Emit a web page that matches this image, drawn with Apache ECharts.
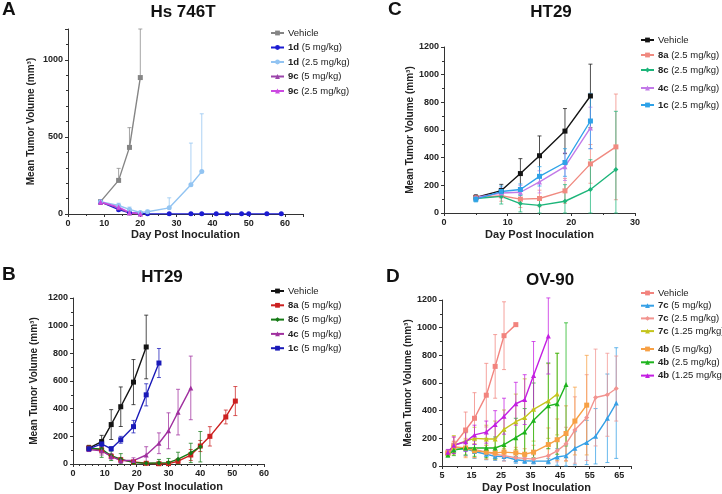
<!DOCTYPE html>
<html>
<head>
<meta charset="utf-8">
<script src="https://cdn.jsdelivr.net/npm/echarts@6/dist/echarts.min.js"></script>
<style>
  html, body { margin: 0; padding: 0; background: #fff; }
  #main { width: 722px; height: 494px; }
</style>
</head>
<body>
<div id="main"></div>
<script>
// 数据 —— A: Hs 746T
var daysA = [9, 14, 17, 20, 22, 28, 34, 37, 41, 44, 48, 50, 55, 59];
var aVehicle = [80, 218, 432, 885];
var aVehicleSd = [0, 78, 128, 315];
var a1d5 = [78, 28, 8, 3, 2, 1, 1, 1, 1, 1, 1, 1, 1, 1];
var a1d5Sd = [0, 0, 0, 0, 0, 0, 0, 0, 0, 0, 0, 0, 0, 0];
var a1d25 = [80, 55, 30, 10, 15, 40, 190, 275];
var a1d25Sd = [0, 15, 15, 5, 10, 65, 270, 375];
var a9c5 = [75, 40, 6, 0];
var a9c5Sd = [0, 0, 0, 0];
var a9c25 = [78, 45, 10, 2];
var a9c25Sd = [0, 0, 0, 0];

// C: HT29 (2.5 mg/kg)
var daysC = [5, 9, 12, 15, 19, 23, 27];
var cVehicle = [112, 162, 285, 414, 592, 846];
var cVehicleSd = [20, 45, 108, 143, 163, 230];
var c8a = [110, 125, 100, 105, 160, 355, 478];
var c8aSd = [15, 40, 60, 60, 90, 140, 382];
var c8c = [105, 120, 68, 55, 85, 170, 315];
var c8cSd = [20, 55, 60, 60, 120, 215, 420];
var c4c = [112, 145, 150, 225, 335, 615];
var c4cSd = [15, 35, 50, 80, 100, 150];
var c1c = [100, 155, 170, 265, 365, 665];
var c1cSd = [20, 40, 40, 70, 100, 200];

// B: HT29 (5 mg/kg)
var daysB = [5, 9, 12, 15, 19, 23, 27, 30, 33, 37, 40, 43, 48, 51];
var bVehicle = [115, 162, 285, 414, 592, 846];
var bVehicleSd = [20, 45, 108, 143, 163, 230];
var b8a = [115, 100, 55, 30, 15, 5, 2, 3, 20, 65, 130, 200, 340, 455];
var b8aSd = [15, 20, 15, 15, 10, 5, 5, 5, 15, 40, 40, 70, 50, 105];
var b8c = [112, 108, 60, 35, 10, 5, 8, 10, 35, 80, 125];
var b8cSd = [20, 60, 35, 40, 15, 10, 25, 30, 50, 70, 110];
var b4c = [105, 95, 55, 25, 25, 65, 150, 240, 375, 550];
var b4cSd = [15, 30, 20, 20, 20, 60, 75, 130, 165, 230];
var b1c = [110, 145, 110, 175, 270, 500, 730];
var b1cSd = [15, 20, 15, 25, 45, 80, 105];

// D: OV-90
var daysD = [7, 9, 13, 16, 20, 23, 26, 30, 33, 36, 41, 44, 47, 50, 54, 57, 61, 64];
var dVehicle = [96, 150, 260, 345, 512, 720, 942, 1022];
var dVehicleSd = [20, 60, 130, 185, 230, 230, 245, 0];
var d7c5 = [100, 120, 125, 105, 85, 70, 68, 45, 38, 35, 35, 65, 75, 128, 170, 215, 345, 455];
var d7c5Sd = [15, 30, 50, 50, 40, 30, 30, 25, 20, 20, 20, 60, 80, 120, 160, 200, 320, 400];
var d7c25 = [90, 140, 130, 120, 100, 85, 75, 60, 55, 50, 75, 110, 160, 260, 350, 495, 515, 560];
var d7c25Sd = [20, 40, 60, 60, 50, 40, 40, 30, 30, 30, 50, 80, 120, 240, 310, 350, 300, 235];
var d7c125 = [95, 150, 180, 200, 195, 195, 265, 320, 350, 410, 470, 520];
var d7c125Sd = [20, 70, 60, 80, 100, 130, 140, 200, 280, 230, 270, 295];
var d4b5 = [90, 135, 130, 110, 100, 95, 100, 95, 85, 100, 155, 190, 235, 325, 440];
var d4b5Sd = [20, 40, 70, 50, 50, 40, 40, 40, 40, 50, 120, 150, 200, 245, 360];
var d4b25 = [80, 115, 130, 130, 130, 130, 155, 205, 245, 330, 435, 450, 590];
var d4b25Sd = [15, 40, 50, 60, 70, 80, 100, 140, 170, 270, 310, 365, 445];
var d4b125 = [100, 150, 175, 225, 245, 300, 360, 450, 480, 655, 940];
var d4b125Sd = [20, 60, 70, 70, 80, 100, 130, 155, 180, 245, 275];

var chart = echarts.init(document.getElementById('main'));
var FONT = 'Liberation Sans, Arial, sans-serif';

// 每条曲线: key, 面板(grid), 名称, 剂量, 天数, 均值, SD, 颜色, 标记
var lines = [
  ['A0', 0, 'Vehicle', '', daysA, aVehicle, aVehicleSd, '#858585', 'rect'],
  ['A1', 0, '1d', '(5 mg/kg)', daysA, a1d5, a1d5Sd, '#1c1cd2', 'circle'],
  ['A2', 0, '1d', '(2.5 mg/kg)', daysA, a1d25, a1d25Sd, '#92c4f2', 'circle'],
  ['A3', 0, '9c', '(5 mg/kg)', daysA, a9c5, a9c5Sd, '#9b45aa', 'triangle'],
  ['A4', 0, '9c', '(2.5 mg/kg)', daysA, a9c25, a9c25Sd, '#cc4ae2', 'triangle'],
  ['C0', 1, 'Vehicle', '', daysC, cVehicle, cVehicleSd, '#141414', 'rect'],
  ['C1', 1, '8a', '(2.5 mg/kg)', daysC, c8a, c8aSd, '#f08a80', 'rect'],
  ['C2', 1, '8c', '(2.5 mg/kg)', daysC, c8c, c8cSd, '#1db57a', 'diamond'],
  ['C3', 1, '4c', '(2.5 mg/kg)', daysC, c4c, c4cSd, '#c27ae8', 'triangle'],
  ['C4', 1, '1c', '(2.5 mg/kg)', daysC, c1c, c1cSd, '#2ea2e8', 'rect'],
  ['B0', 2, 'Vehicle', '', daysB, bVehicle, bVehicleSd, '#141414', 'rect'],
  ['B1', 2, '8a', '(5 mg/kg)', daysB, b8a, b8aSd, '#cc2020', 'rect'],
  ['B2', 2, '8c', '(5 mg/kg)', daysB, b8c, b8cSd, '#157a15', 'diamond'],
  ['B3', 2, '4c', '(5 mg/kg)', daysB, b4c, b4cSd, '#a0309f', 'triangle'],
  ['B4', 2, '1c', '(5 mg/kg)', daysB, b1c, b1cSd, '#1a1ab8', 'rect'],
  ['D0', 3, 'Vehicle', '', daysD, dVehicle, dVehicleSd, '#f2847e', 'rect'],
  ['D1', 3, '7c', '(5 mg/kg)', daysD, d7c5, d7c5Sd, '#36a0e6', 'triangle'],
  ['D2', 3, '7c', '(2.5 mg/kg)', daysD, d7c25, d7c25Sd, '#f29490', 'diamond'],
  ['D3', 3, '7c', '(1.25 mg/kg)', daysD, d7c125, d7c125Sd, '#c4c41c', 'triangle'],
  ['D4', 3, '4b', '(5 mg/kg)', daysD, d4b5, d4b5Sd, '#f7a044', 'rect'],
  ['D5', 3, '4b', '(2.5 mg/kg)', daysD, d4b25, d4b25Sd, '#1eb41e', 'triangle'],
  ['D6', 3, '4b', '(1.25 mg/kg)', daysD, d4b125, d4b125Sd, '#c41ee2', 'triangle']
];

var labelOf = {};
lines.forEach(function (l) { labelOf[l[0]] = l; });

// 误差线 (A 只画上半部分)
function errRender(upperOnly) {
  return function (params, api) {
    var x = api.value(0), m = api.value(1), s = api.value(2);
    if (!s) return null;
    var top = api.coord([x, m + s]);
    var bot = api.coord([x, upperOnly ? m : Math.max(0, m - s)]);
    var c = api.visual('color');
    var st = { stroke: c, lineWidth: 1, opacity: 0.75 };
    var kids = [
      { type: 'line', shape: { x1: top[0], y1: top[1], x2: bot[0], y2: bot[1] }, style: st },
      { type: 'line', shape: { x1: top[0] - 2, y1: top[1], x2: top[0] + 2, y2: top[1] }, style: st }
    ];
    if (!upperOnly) {
      kids.push({ type: 'line', shape: { x1: bot[0] - 2, y1: bot[1], x2: bot[0] + 2, y2: bot[1] }, style: st });
    }
    return { type: 'group', children: kids };
  };
}

var series = [];
lines.forEach(function (l) {
  var days = l[4], vals = l[5], sd = l[6];
  var pts = [], errs = [];
  for (var i = 0; i < vals.length; i++) {
    pts.push([days[i], vals[i]]);
    errs.push([days[i], vals[i], sd[i]]);
  }
  series.push({
    type: 'custom', name: l[0] + '_err', xAxisIndex: l[1], yAxisIndex: l[1],
    renderItem: errRender(l[1] === 0), itemStyle: { color: l[7] },
    data: errs, silent: true, z: 1
  });
  series.push({
    type: 'line', name: l[0], xAxisIndex: l[1], yAxisIndex: l[1],
    data: pts, symbol: l[8], symbolSize: 5, showSymbol: true,
    itemStyle: { color: l[7] }, lineStyle: { color: l[7], width: 1.4 }, z: 3
  });
});

var tickLabel = {
  fontSize: 9, fontWeight: 'bold', color: '#222', fontFamily: FONT, margin: 5,
  formatter: function (v) { return String(v); }
};
var axisLine = { lineStyle: { color: '#333', width: 1 } };

function xAx(idx, min, max, interval, minorSplit, nameGap) {
  return {
    type: 'value', gridIndex: idx, min: min, max: max, interval: interval,
    name: 'Day Post Inoculation', nameLocation: 'middle', nameGap: nameGap,
    nameTextStyle: { fontSize: 11, fontWeight: 'bold', color: '#222', fontFamily: FONT },
    axisLine: axisLine, axisTick: { length: 3, lineStyle: { color: '#333' } },
    minorTick: { show: true, splitNumber: minorSplit, length: 2, lineStyle: { color: '#333' } },
    splitLine: { show: false },
    axisLabel: Object.assign({ showMaxLabel: max % interval === 0 }, tickLabel)
  };
}
function yAx(idx, interval, minorSplit, nameGap) {
  return {
    type: 'value', gridIndex: idx, min: 0, max: 1200, interval: interval,
    name: 'Mean Tumor Volume (mm³)', nameLocation: 'middle', nameGap: nameGap,
    nameTextStyle: { fontSize: 10, fontWeight: 'bold', color: '#222', fontFamily: FONT },
    axisLine: axisLine, axisTick: { length: 3, lineStyle: { color: '#333' } },
    minorTick: { show: true, splitNumber: minorSplit, length: 2, lineStyle: { color: '#333' } },
    splitLine: { show: false },
    axisLabel: Object.assign({ showMaxLabel: 1200 % interval === 0 }, tickLabel)
  };
}

function legend(keys, left, top, gap) {
  return {
    data: keys, left: left, top: top, orient: 'vertical', itemGap: gap,
    itemWidth: 13, itemHeight: 6, padding: 0, selectedMode: false,
    textStyle: {
      fontSize: 9.5, color: '#222', fontFamily: FONT, padding: [0, 0, 0, -1],
      rich: { b: { fontSize: 9.5, fontWeight: 'bold', color: '#222', fontFamily: FONT } }
    },
    formatter: function (k) {
      var l = labelOf[k];
      return l[2] === 'Vehicle' ? 'Vehicle' : '{b|' + l[2] + '} ' + l[3];
    }
  };
}

function txt(s, x, y, size, align) {
  return {
    type: 'text', x: x, y: y,
    style: { text: s, fontSize: size, fontWeight: 'bold', fill: '#111', fontFamily: FONT,
      textAlign: align, textVerticalAlign: 'middle' }
  };
}

var option = {
  backgroundColor: '#fff',
  animation: false,
  grid: [
    { left: 68, top: 29, width: 235, height: 185 },
    { left: 444, top: 47, width: 191, height: 166 },
    { left: 73, top: 298, width: 191, height: 166 },
    { left: 442, top: 300, width: 189, height: 166 }
  ],
  xAxis: [
    xAx(0, 0, 65, 10, 2, 15),
    xAx(1, 0, 30, 10, 2, 16),
    xAx(2, 0, 60, 10, 5, 17),
    xAx(3, 5, 69, 10, 2, 16)
  ],
  yAxis: [
    yAx(0, 500, 5, 32),
    yAx(1, 200, 2, 26),
    yAx(2, 200, 2, 34),
    yAx(3, 200, 2, 25)
  ],
  legend: [
    legend(['A0', 'A1', 'A2', 'A3', 'A4'], 270, 28, 4.5),
    legend(['C0', 'C1', 'C2'], 640, 35, 5),
    legend(['C3', 'C4'], 640, 83, 7),
    legend(['B0', 'B1', 'B2', 'B3', 'B4'], 270, 286, 4.3),
    legend(['D0', 'D1', 'D2', 'D3'], 640, 288, 2.7),
    legend(['D4', 'D5', 'D6'], 640, 344, 3.3)
  ],
  graphic: [
    txt('A', 2, 10, 19, 'left'),
    txt('C', 388, 10, 19, 'left'),
    txt('B', 2, 275, 19, 'left'),
    txt('D', 386, 277, 19, 'left'),
    txt('Hs 746T', 183, 12, 17, 'center'),
    txt('HT29', 551, 12, 17, 'center'),
    txt('HT29', 162, 277, 17, 'center'),
    txt('OV-90', 550, 280, 17, 'center')
  ],
  series: series
};
chart.setOption(option);
</script>
</body>
</html>
